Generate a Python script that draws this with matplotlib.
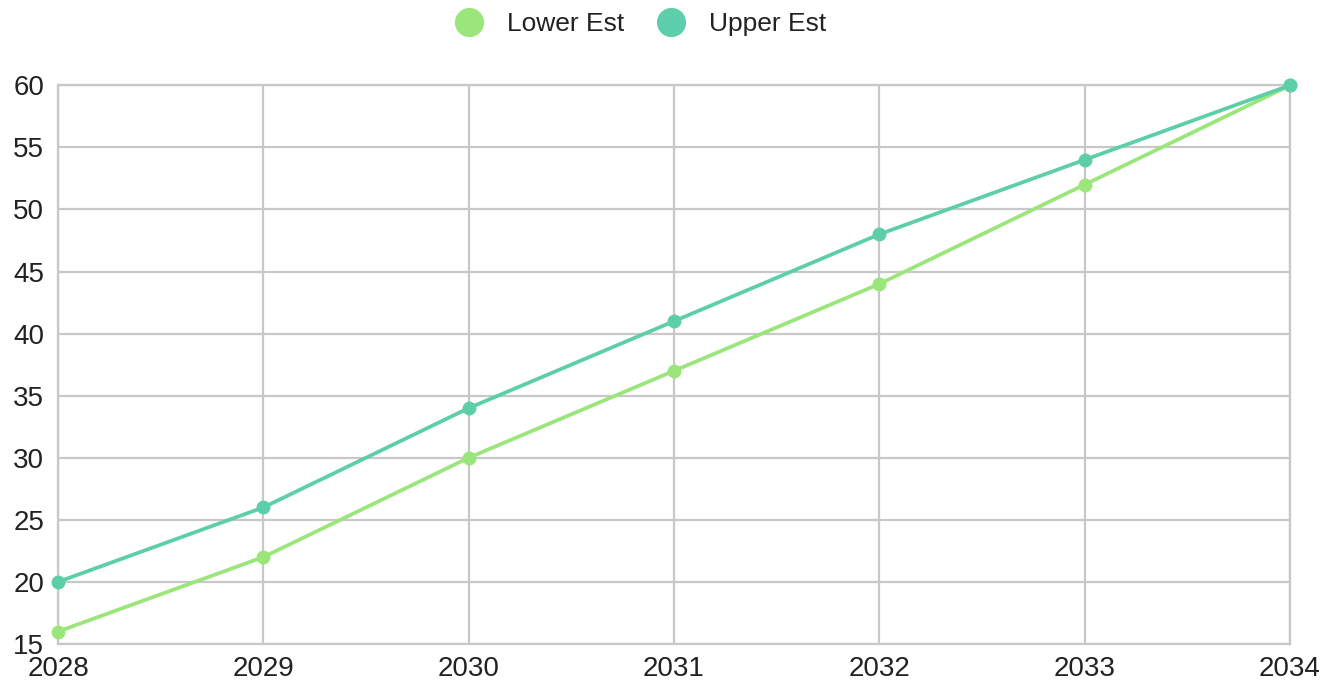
import matplotlib
matplotlib.use('Agg')
import matplotlib.pyplot as plt
from matplotlib.lines import Line2D

years = [2028, 2029, 2030, 2031, 2032, 2033, 2034]
lower_est = [16, 22, 30, 37, 44, 52, 60]
upper_est = [20, 26, 34, 41, 48, 54, 60]
y_ticks = [15, 20, 25, 30, 35, 40, 45, 50, 55, 60]

lower_color = '#9BE67B'
upper_color = '#5CCFAA'

plt.rcParams['font.family'] = ['Liberation Sans', 'DejaVu Sans']

fig = plt.figure(figsize=(13.34, 6.88), dpi=100)
ax = fig.add_axes([0.0435, 0.064, 0.9235, 0.812])

ax.plot(years, lower_est, color=lower_color, lw=2.7, marker='o', ms=9, zorder=3, clip_on=False)
ax.plot(years, upper_est, color=upper_color, lw=2.7, marker='o', ms=9, zorder=4, clip_on=False)

ax.set_xlim(years[0], years[-1])
ax.set_ylim(15, 60)
ax.set_xticks(years)
ax.set_yticks(y_ticks)
ax.grid(True, color='#c8c8c8', lw=1.6)
ax.set_axisbelow(True)
for s in ax.spines.values():
    s.set_color('#c8c8c8')
    s.set_linewidth(1.6)
ax.tick_params(length=0, labelsize=20, colors='#222222')
ax.tick_params(axis='x', pad=9)
ax.tick_params(axis='y', pad=10)

handles = [Line2D([], [], ls='none', marker='o', ms=20, color=lower_color),
           Line2D([], [], ls='none', marker='o', ms=20, color=upper_color)]
fig.legend(handles, ['Lower Est', 'Upper Est'], loc='center', bbox_to_anchor=(0.4755, 0.965),
           ncol=2, frameon=False, fontsize=19, handletextpad=0.45, columnspacing=0.75,
           labelcolor='#222222')

fig.savefig('out.png', dpi=100)
